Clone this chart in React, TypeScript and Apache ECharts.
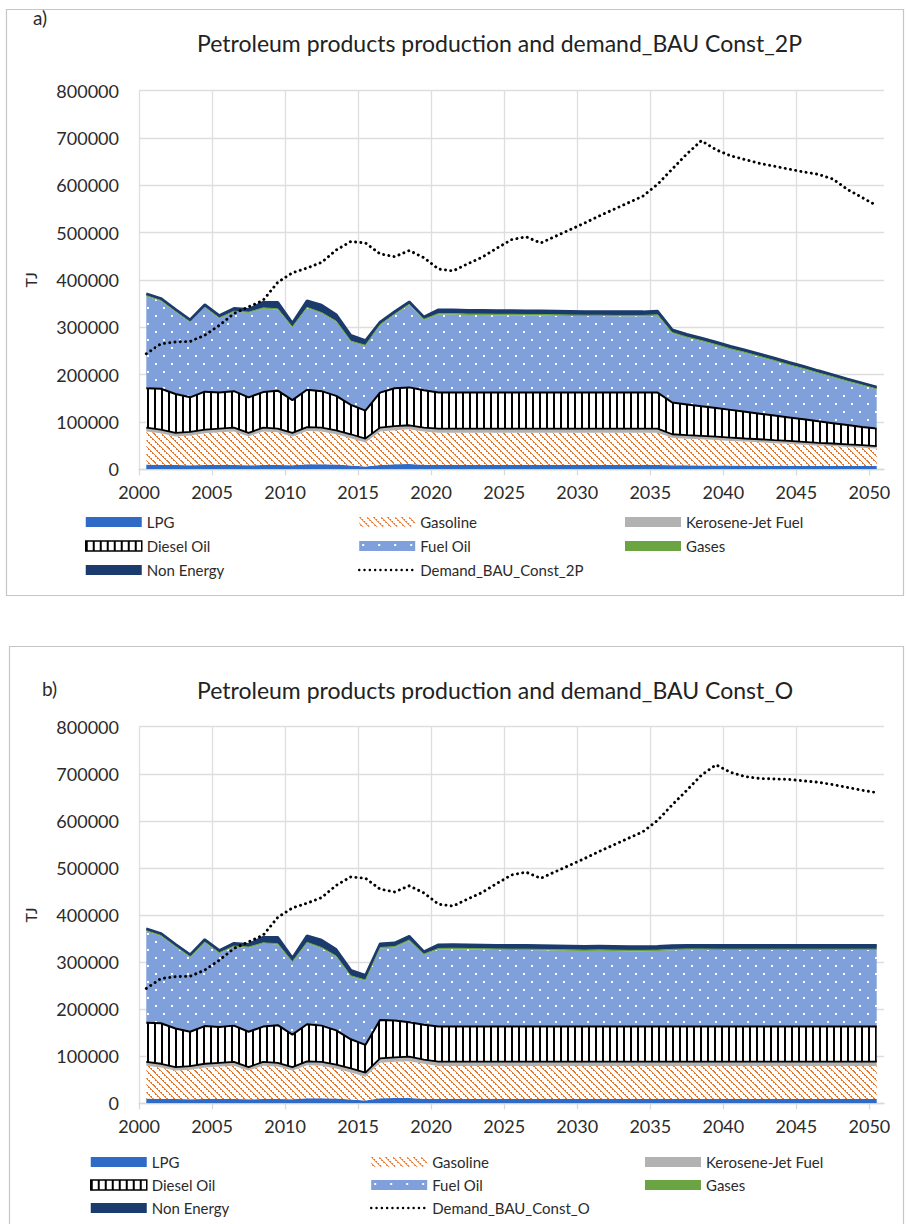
import React, { useEffect, useRef } from "react";
import * as echarts from "echarts";

const FONT = "Lato, 'Open Sans', sans-serif";
const TEXT = "#2b2b2b";

// ---------- categories / ticks ----------
const years: number[] = Array.from({ length: 51 }, (_, i) => 2000 + i);
const xTickYears = [2000, 2005, 2010, 2015, 2020, 2025, 2030, 2035, 2040, 2045, 2050];
const yMax = 800000;
const yStep = 100000;

// ---------- shared history 2000-2015 ----------
const lpgHist = [10000, 9000, 9000, 8500, 9000, 9000, 9000, 8500, 9000, 9000, 8500, 10500, 10500, 10000, 8000, 6000];
const gasolineHist = [70000, 67000, 60500, 63000, 67000, 69000, 71000, 61000, 71000, 69000, 61000, 70500, 69500, 64000, 57500, 50500];
const keroseneHist = [8000, 8000, 7500, 7500, 8000, 8000, 8000, 7500, 8000, 8000, 7500, 8000, 8000, 8000, 8500, 8500];
const dieselHist = [83000, 86000, 82000, 73000, 80000, 76000, 77000, 75000, 75000, 80000, 69000, 79000, 77000, 73000, 62000, 59000];
const fuelOilHist = [194500, 185500, 173500, 158500, 177500, 156500, 167500, 178500, 176500, 171500, 153500, 172500, 164500, 156500, 133500, 136500];
const gasesHist = [1500, 1500, 1500, 1500, 1500, 1500, 1500, 1500, 1500, 1500, 1500, 1500, 1500, 1500, 1500, 1500];
const nonEnergyHist = [4000, 4000, 4000, 4000, 5000, 5000, 6000, 6000, 12000, 14000, 8000, 14000, 16000, 14000, 12000, 10000];

// ---------- scenario a) 2016-2050 (BAU Const_2P) ----------
const lpgA2016 = [9000, 10500, 11000, 9500, 9000, 9000, 9000, 9000, 9000, 9000, 9000, 9000, 9000, 9000, 9000, 9000, 9000, 9000, 9000, 9000, 8500, 8500, 8000, 8000, 8000, 7500, 7500, 7500, 7500, 7000, 7000, 7000, 7000, 7000, 7000];
const gasolineA2016 = [71000, 72000, 73500, 70500, 68000, 68000, 68000, 68000, 68000, 68000, 68000, 68000, 68000, 68000, 68000, 68000, 68000, 68000, 68000, 68000, 58000, 56000, 55500, 54000, 52000, 51000, 49500, 47500, 46500, 45000, 43000, 42000, 40000, 38500, 37000];
const keroseneA2016 = [8000, 8500, 8500, 8000, 9000, 9000, 9000, 9000, 9000, 9000, 9000, 9000, 9000, 9000, 9000, 9000, 9000, 9000, 9000, 9000, 7500, 7500, 7000, 7000, 7000, 6500, 6500, 6500, 6000, 6000, 6000, 5500, 5500, 5500, 5000];
const dieselA2016 = [74000, 80000, 80000, 79000, 76000, 76000, 76000, 76000, 76000, 76000, 76000, 76000, 76000, 76000, 76000, 76000, 76000, 76000, 76000, 76000, 67000, 65000, 62500, 60500, 58500, 56500, 54000, 52000, 49500, 47500, 45500, 43000, 41000, 38500, 37000];
const fuelOilA2016 = [142500, 155500, 174500, 148500, 165000, 165000, 164000, 164000, 163500, 163500, 163000, 163000, 162500, 162000, 161500, 161500, 161000, 161000, 161000, 162500, 146500, 141000, 137500, 132500, 127500, 124000, 119500, 115000, 110000, 106000, 101000, 96500, 91500, 87500, 82500];
const gasesA2016 = [1500, 1500, 1500, 1500, 2000, 2000, 2000, 2000, 2000, 2000, 2000, 2000, 2000, 2000, 2000, 2000, 2000, 2000, 2000, 2000, 1500, 1500, 1500, 1500, 1500, 1500, 1500, 1500, 1500, 1500, 1500, 1500, 1500, 1500, 1500];
const nonEnergyA2016 = [5000, 5000, 5000, 5000, 8000, 8000, 8000, 8000, 8000, 8000, 8000, 8000, 8000, 8000, 8000, 8000, 8000, 8000, 8000, 8000, 6000, 6000, 5500, 5500, 5500, 5000, 5000, 5000, 5000, 4500, 4500, 4500, 4500, 4000, 4000];
const demandA = [244000, 265000, 269000, 270000, 283000, 304000, 329000, 343000, 357000, 395000, 415000, 425000, 437000, 463000, 481000, 478000, 455000, 449000, 462000, 447000, 423000, 419000, 434000, 448000, 467000, 485000, 491000, 478000, 492000, 506000, 520000, 535000, 549000, 563000, 577000, 602000, 634000, 666000, 694000, 675000, 662000, 654000, 646000, 640000, 634000, 628000, 623000, 613000, 591000, 574000, 557000];

// ---------- scenario b) 2016-2050 (BAU Const_O) ----------
const lpgB2016 = [10500, 11000, 11000, 9500, 9000, 9000, 9000, 9000, 9000, 9000, 9000, 9000, 9000, 9000, 9000, 9000, 9000, 9000, 9000, 9000, 9000, 9000, 9000, 9000, 9000, 9000, 9000, 9000, 9000, 9000, 9000, 9000, 9000, 9000, 9000];
const gasolineB2016 = [75500, 77000, 78500, 74500, 70000, 70000, 70000, 70000, 70000, 70000, 70000, 70000, 70000, 70000, 70000, 70000, 70000, 70000, 70000, 70000, 70000, 70000, 70000, 70000, 70000, 70000, 70000, 70000, 70000, 70000, 70000, 70000, 70000, 70000, 70000];
const keroseneB2016 = [9500, 9500, 9500, 9000, 9500, 9500, 9500, 9500, 9500, 9500, 9500, 9500, 9500, 9500, 9500, 9500, 9500, 9500, 9500, 9500, 9500, 9500, 9500, 9500, 9500, 9500, 9500, 9500, 9500, 9500, 9500, 9500, 9500, 9500, 9500];
const dieselB2016 = [81500, 78500, 73000, 74000, 74500, 74500, 74500, 74500, 74500, 74500, 74500, 74500, 74500, 74500, 74500, 74500, 74500, 74500, 74500, 74500, 74500, 74500, 74500, 74500, 74500, 74500, 74500, 74500, 74500, 74500, 74500, 74500, 74500, 74500, 74500];
const fuelOilB2016 = [152000, 155000, 173000, 148000, 164000, 164500, 164000, 163500, 163000, 162500, 162500, 162000, 161500, 161000, 160500, 161000, 160500, 160000, 160000, 160500, 162000, 163000, 163000, 162500, 162500, 162500, 162500, 162500, 162500, 162500, 162500, 162500, 162500, 162500, 162500];
const gasesB2016 = [2000, 2000, 2000, 2000, 2000, 2000, 2000, 2000, 2000, 2000, 2000, 2000, 2000, 2000, 2000, 2000, 2000, 2000, 2000, 2000, 2000, 2000, 2000, 2000, 2000, 2000, 2000, 2000, 2000, 2000, 2000, 2000, 2000, 2000, 2000];
const nonEnergyB2016 = [8000, 8000, 8000, 5000, 8000, 8000, 8000, 8000, 8000, 8000, 8000, 8000, 8000, 8000, 8000, 8000, 8000, 8000, 8000, 8000, 8000, 8000, 8000, 8000, 8000, 8000, 8000, 8000, 8000, 8000, 8000, 8000, 8000, 8000, 8000];
const demandB = [244000, 265000, 269000, 270000, 283000, 304000, 329000, 343000, 357000, 395000, 415000, 425000, 437000, 463000, 481000, 478000, 455000, 449000, 462000, 447000, 423000, 419000, 434000, 448000, 467000, 485000, 491000, 478000, 492000, 506000, 520000, 535000, 549000, 563000, 577000, 601000, 634000, 665000, 697000, 719000, 703000, 694000, 690000, 689000, 688000, 685000, 682000, 677000, 671000, 665000, 660000];

// ---------- colours ----------
const C_LPG = "#2F6BC6";
const C_GASOLINE = "#E8772E";
const C_KERO = "#B2B2B2";
const C_FUEL = "#7FA0DA";
const C_GASES = "#6AA443";
const C_NONEN = "#1B3A6E";

type Tile = { image: string; repeat: string; imageWidth: number; imageHeight: number };

function makeTile(w: number, h: number, bg: string, paint: (x: number, y: number) => string | null): Tile {
  const c = document.createElement("canvas");
  c.width = w;
  c.height = h;
  const ctx = c.getContext("2d")!;
  ctx.fillStyle = bg;
  ctx.fillRect(0, 0, w, h);
  for (let y = 0; y < h; y++) {
    for (let x = 0; x < w; x++) {
      const col = paint(x, y);
      if (col) {
        ctx.fillStyle = col;
        ctx.fillRect(x, y, 1, 1);
      }
    }
  }
  return { image: c.toDataURL(), repeat: "repeat", imageWidth: w, imageHeight: h };
}

function makePatterns() {
  // orange dashed "\\\" stripes on white
  const gasoline = makeTile(14, 14, "#ffffff", (x, y) =>
    (x - y + 14) % 7 < 2 && (x + y) % 4 !== 3 ? C_GASOLINE : null
  );
  const diesel = makeTile(7, 4, "#ffffff", (x) => (x < 2 ? "#000000" : null));
  const fuel = makeTile(16, 16, C_FUEL, (x, y) =>
    (x >= 3 && x <= 4 && y >= 3 && y <= 4) || (x >= 11 && x <= 12 && y >= 11 && y <= 12) ? "#ffffff" : null
  );
  return { gasoline, diesel, fuel };
}

type Spec = {
  tag: string;
  title: string;
  demandName: string;
  lpg: number[];
  gasoline: number[];
  kerosene: number[];
  diesel: number[];
  fuelOil: number[];
  gases: number[];
  nonEnergy: number[];
  demand: number[];
  gridTop: number;
  gridHeight: number;
  legendLefts: number[];
  legendTop: number;
  legendGap: number;
  titleY: number;
  tagX: number;
  tagY: number;
  frame: { x: number; y: number; w: number; h: number };
};

const specA: Spec = {
  tag: "a)",
  title: "Petroleum products production and demand_BAU Const_2P",
  demandName: "Demand_BAU_Const_2P",
  lpg: [...lpgHist, ...lpgA2016],
  gasoline: [...gasolineHist, ...gasolineA2016],
  kerosene: [...keroseneHist, ...keroseneA2016],
  diesel: [...dieselHist, ...dieselA2016],
  fuelOil: [...fuelOilHist, ...fuelOilA2016],
  gases: [...gasesHist, ...gasesA2016],
  nonEnergy: [...nonEnergyHist, ...nonEnergyA2016],
  demand: demandA,
  gridTop: 90.5,
  gridHeight: 378.8,
  legendLefts: [85, 358, 625],
  legendTop: 514,
  legendGap: 8,
  titleY: 43,
  tagX: 33,
  tagY: 17,
  frame: { x: 6.5, y: 9.5, w: 897, h: 586 },
};

const specB: Spec = {
  tag: "b)",
  title: "Petroleum products production and demand_BAU Const_O",
  demandName: "Demand_BAU_Const_O",
  lpg: [...lpgHist, ...lpgB2016],
  gasoline: [...gasolineHist, ...gasolineB2016],
  kerosene: [...keroseneHist, ...keroseneB2016],
  diesel: [...dieselHist, ...dieselB2016],
  fuelOil: [...fuelOilHist, ...fuelOilB2016],
  gases: [...gasesHist, ...gasesB2016],
  nonEnergy: [...nonEnergyHist, ...nonEnergyB2016],
  demand: demandB,
  gridTop: 116.7,
  gridHeight: 376.6,
  legendLefts: [90, 370, 645],
  legendTop: 544,
  legendGap: 7,
  titleY: 80,
  tagX: 42,
  tagY: 78,
  frame: { x: 9.5, y: 36.5, w: 894, h: 700 },
};

const DEMAND_LINE = { color: "#000000", width: 2.9, type: [0.1, 5.2], cap: "round" };

function buildOption(spec: Spec) {
  const P = makePatterns();
  const tickPos = xTickYears.map((y) => y - years[0]);

  const area = (name: string, data: number[], solid: string, fill: any, line: any) => ({
    name,
    type: "line",
    stack: "total",
    xAxisIndex: 0,
    yAxisIndex: 0,
    data,
    symbol: "none",
    showSymbol: false,
    color: solid,
    lineStyle: line || { width: 0, opacity: 0 },
    areaStyle: { color: fill, opacity: 1 },
    emphasis: { disabled: true },
    silent: true,
  });

  const series: any[] = [
    area("LPG", spec.lpg, C_LPG, C_LPG, null),
    area("Gasoline", spec.gasoline, C_GASOLINE, P.gasoline, null),
    area("Kerosene-Jet Fuel", spec.kerosene, C_KERO, C_KERO, { color: "#000000", width: 1.8 }),
    area("Diesel Oil", spec.diesel, "#000000", P.diesel, { color: "#000000", width: 2 }),
    area("Fuel Oil", spec.fuelOil, C_FUEL, P.fuel, null),
    area("Gases", spec.gases, C_GASES, C_GASES, { color: C_GASES, width: 1 }),
    area("Non Energy", spec.nonEnergy, C_NONEN, C_NONEN, { color: C_NONEN, width: 2.5 }),
    {
      name: spec.demandName,
      type: "line",
      xAxisIndex: 0,
      yAxisIndex: 0,
      data: spec.demand,
      symbol: "none",
      showSymbol: false,
      color: "#000000",
      lineStyle: DEMAND_LINE,
      emphasis: { disabled: true },
      silent: true,
      z: 5,
    },
  ];

  const legendStyle: Record<string, any> = {
    LPG: { color: C_LPG, borderWidth: 0 },
    Gasoline: { color: P.gasoline, borderWidth: 0 },
    "Kerosene-Jet Fuel": { color: C_KERO, borderWidth: 0 },
    "Diesel Oil": { color: P.diesel, borderColor: "#000000", borderWidth: 1.5 },
    "Fuel Oil": { color: P.fuel, borderWidth: 0 },
    Gases: { color: C_GASES, borderWidth: 0 },
    "Non Energy": { color: C_NONEN, borderWidth: 0 },
  };
  const cols = [
    ["LPG", "Diesel Oil", "Non Energy"],
    ["Gasoline", "Fuel Oil", spec.demandName],
    ["Kerosene-Jet Fuel", "Gases"],
  ];
  const legends = cols.map((names, k) => ({
    orient: "vertical",
    left: spec.legendLefts[k],
    top: spec.legendTop,
    padding: 0,
    itemWidth: 56,
    itemHeight: 10,
    itemGap: spec.legendGap,
    selectedMode: false,
    textStyle: { fontSize: 15, fontFamily: FONT, color: TEXT, lineHeight: 16 },
    data: names.map((n) =>
      legendStyle[n]
        ? { name: n, icon: "rect", itemStyle: legendStyle[n] }
        : { name: n, itemStyle: { color: "transparent", opacity: 0, borderWidth: 0 }, lineStyle: { ...DEMAND_LINE, width: 2.4 } }
    ),
  }));

  return {
    animation: false,
    backgroundColor: "transparent",
    textStyle: { fontFamily: FONT },
    grid: { left: 139, top: spec.gridTop, width: 745, height: spec.gridHeight, containLabel: false },
    xAxis: [
      {
        type: "category",
        data: years,
        boundaryGap: true,
        position: "top",
        show: false,
      },
      {
        type: "value",
        position: "bottom",
        min: 0,
        max: years.length,
        interval: 2.5,
        axisLine: { show: true, lineStyle: { color: "#d9d9d9", width: 1.3 } },
        axisTick: { show: true, length: 6, lineStyle: { color: "#d9d9d9", width: 1.3 }, customValues: tickPos },
        axisLabel: {
          customValues: tickPos,
          formatter: (v: number) => (Math.abs(v % 5) < 1e-6 ? String(years[0] + v) : ""),
          fontSize: 18,
          color: TEXT,
          margin: 14,
          fontFamily: FONT,
        },
        splitLine: { show: true, showMaxLine: false, lineStyle: { color: "#dedede", width: 1.3 } },
      },
    ],
    yAxis: {
      type: "value",
      min: 0,
      max: yMax,
      interval: yStep,
      name: "TJ",
      nameLocation: "middle",
      nameRotate: 90,
      nameGap: 101,
      nameTextStyle: { fontSize: 16, color: TEXT, fontFamily: FONT },
      axisLine: { show: false },
      axisTick: { show: false },
      axisLabel: { fontSize: 18, color: TEXT, margin: 20, fontFamily: FONT, formatter: (v: number) => String(v) },
      splitLine: { show: true, lineStyle: { color: "#dedede", width: 1.3 } },
    },
    legend: legends,
    series,
    graphic: [
      {
        type: "rect",
        silent: true,
        z: -10,
        shape: { x: spec.frame.x, y: spec.frame.y, width: spec.frame.w, height: spec.frame.h },
        style: { fill: "none", stroke: "#c6c6c6", lineWidth: 1.2 },
      },
      {
        type: "text",
        silent: true,
        x: spec.tagX,
        y: spec.tagY,
        style: { text: spec.tag, font: `19px ${FONT}`, fill: TEXT, textAlign: "left", textVerticalAlign: "middle", verticalAlign: "middle" },
      },
      {
        type: "text",
        silent: true,
        x: 197,
        y: spec.titleY,
        style: { text: spec.title, font: `23px ${FONT}`, fill: "#222222", textAlign: "left", textVerticalAlign: "middle", verticalAlign: "middle" },
      },
    ],
  };
}

function ChartPanel({ spec, top, height }: { spec: Spec; top: number; height: number }) {
  const ref = useRef<HTMLDivElement>(null);
  useEffect(() => {
    if (!ref.current) return;
    const chart = echarts.init(ref.current, undefined, { renderer: "svg" });
    chart.setOption(buildOption(spec) as any);
    return () => chart.dispose();
  }, [spec]);
  return <div ref={ref} style={{ position: "absolute", left: 0, top, width: 906, height }} />;
}

export default function App() {
  return (
    <div style={{ position: "absolute", left: 0, top: 0, width: 906, height: 1224, background: "#ffffff", overflow: "hidden" }}>
      <ChartPanel spec={specA} top={0} height={610} />
      <ChartPanel spec={specB} top={610} height={614} />
    </div>
  );
}
